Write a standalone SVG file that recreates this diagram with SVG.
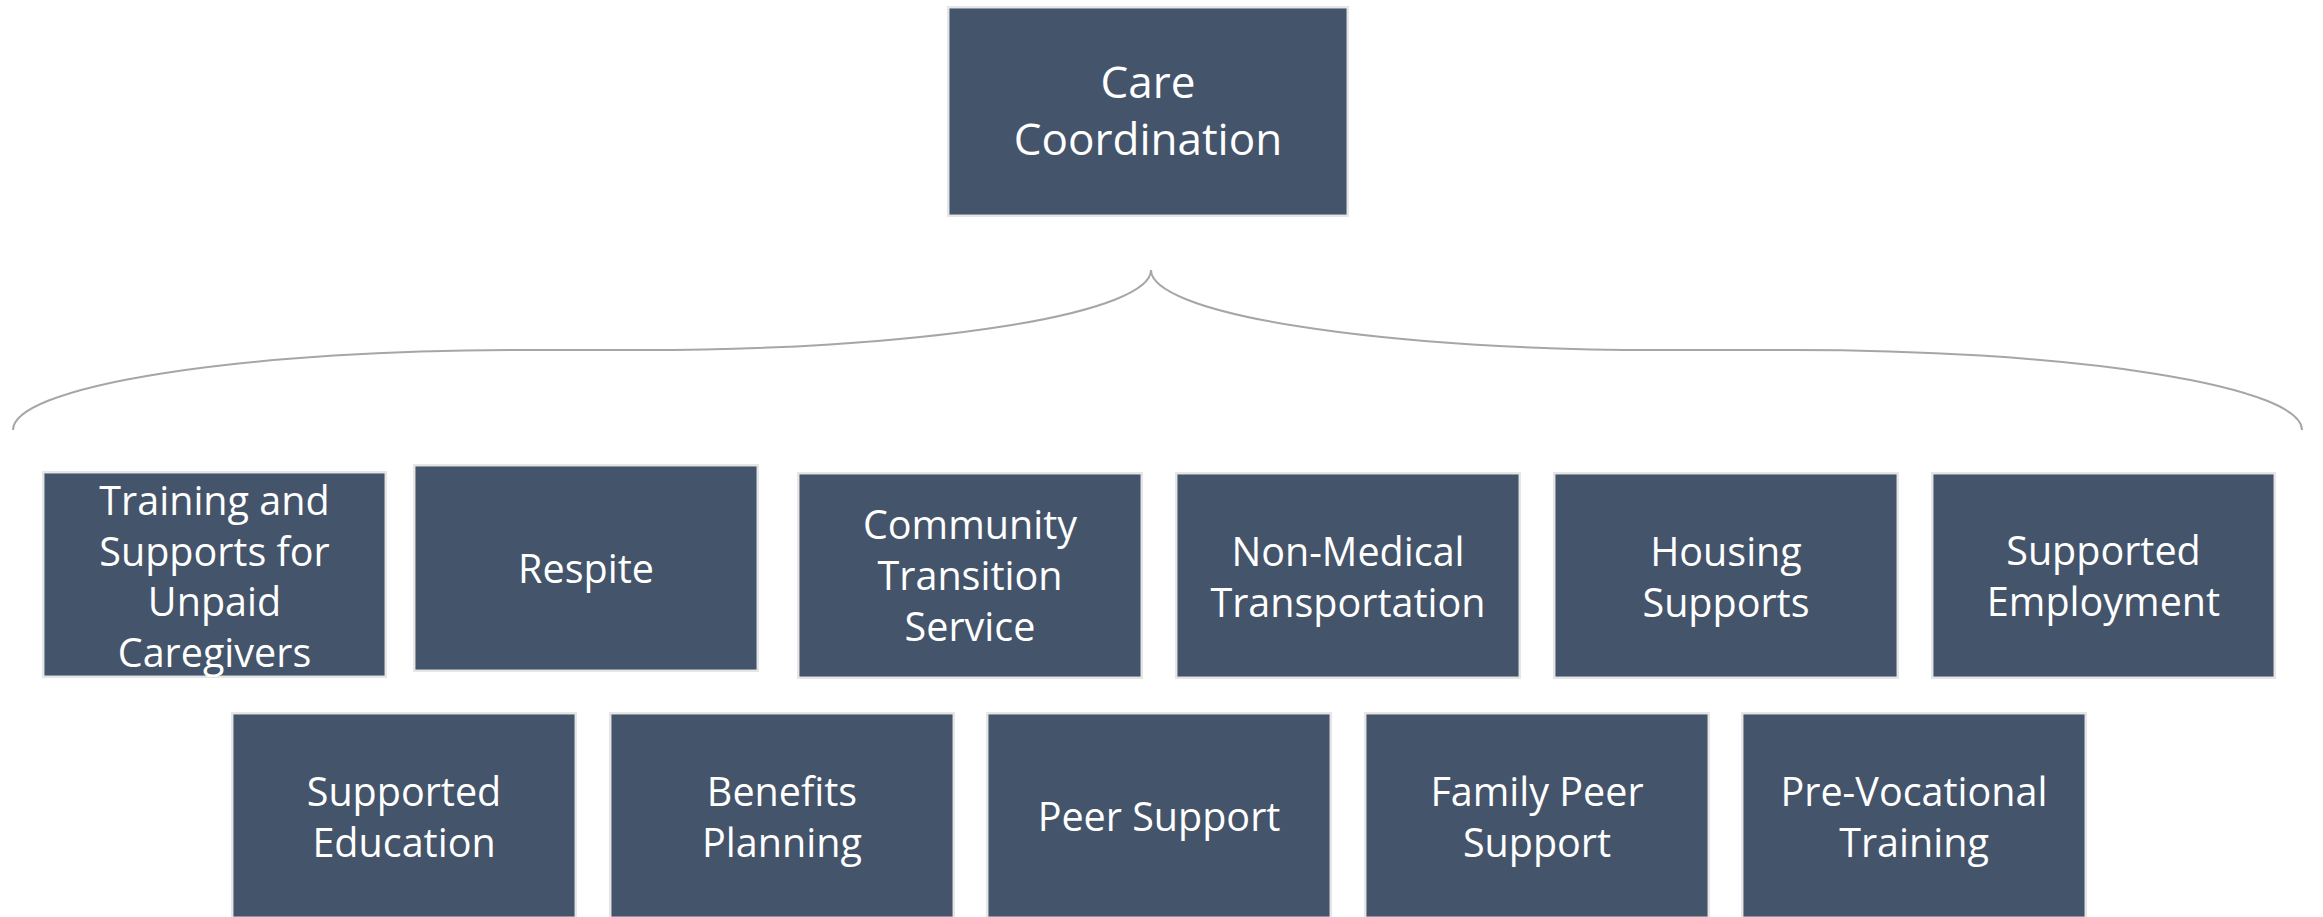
<svg xmlns="http://www.w3.org/2000/svg" width="2323" height="917" viewBox="0 0 2323 917">
<style>
.box{fill:#44546a;stroke:#e6e6e6;stroke-width:2.5}
.lbl{font-family:"Open Sans","Noto Sans",sans-serif;fill:#ffffff;text-anchor:middle;font-size:39.5px}
.top{font-size:44px}
.brace{fill:none;stroke:#a6a6a6;stroke-width:2}
</style>
<rect width="2323" height="917" fill="#ffffff"/>
<g id="connectors">
<path class="brace" d="M13,430 A508,80 0 0 1 521,350 L643,350 A508,80 0 0 0 1151,270 A508,80 0 0 0 1659,350 L1794,350 A508,80 0 0 1 2302,430"/>
</g>
<g id="care-coordination">
<rect class="box" x="948.2" y="7.2" width="399.6" height="208.6"/>
<text class="lbl top" x="1148" y="98">Care<tspan x="1148" dy="57">Coordination</tspan></text>
</g>
<g id="training-supports">
<rect class="box" x="43.2" y="472.2" width="342.6" height="204.6"/>
<text class="lbl" x="214.5" y="515">Training and<tspan x="214.5" dy="50.7">Supports for</tspan><tspan x="214.5" dy="50.7">Unpaid</tspan><tspan x="214.5" dy="50.7">Caregivers</tspan></text>
</g>
<g id="respite">
<rect class="box" x="414.2" y="465.2" width="343.6" height="205.6"/>
<text class="lbl" x="586" y="583">Respite</text>
</g>
<g id="community-transition">
<rect class="box" x="798.2" y="473.2" width="343.6" height="204.6"/>
<text class="lbl" x="970" y="539">Community<tspan x="970" dy="51">Transition</tspan><tspan x="970" dy="51">Service</tspan></text>
</g>
<g id="non-medical-transportation">
<rect class="box" x="1176.2" y="473.2" width="343.6" height="204.6"/>
<text class="lbl" x="1348" y="566">Non-Medical<tspan x="1348" dy="51">Transportation</tspan></text>
</g>
<g id="housing-supports">
<rect class="box" x="1554.2" y="473.2" width="343.6" height="204.6"/>
<text class="lbl" x="1726" y="566">Housing<tspan x="1726" dy="51">Supports</tspan></text>
</g>
<g id="supported-employment">
<rect class="box" x="1932.2" y="473.2" width="342.6" height="204.6"/>
<text class="lbl" x="2103.5" y="565">Supported<tspan x="2103.5" dy="51">Employment</tspan></text>
</g>
<g id="supported-education">
<rect class="box" x="232.2" y="713.2" width="343.6" height="204.6"/>
<text class="lbl" x="404" y="806">Supported<tspan x="404" dy="51">Education</tspan></text>
</g>
<g id="benefits-planning">
<rect class="box" x="610.2" y="713.2" width="343.6" height="204.6"/>
<text class="lbl" x="782" y="806">Benefits<tspan x="782" dy="51">Planning</tspan></text>
</g>
<g id="peer-support">
<rect class="box" x="987.2" y="713.2" width="343.6" height="204.6"/>
<text class="lbl" x="1159" y="831">Peer Support</text>
</g>
<g id="family-peer-support">
<rect class="box" x="1365.2" y="713.2" width="343.6" height="204.6"/>
<text class="lbl" x="1537" y="806">Family Peer<tspan x="1537" dy="51">Support</tspan></text>
</g>
<g id="pre-vocational-training">
<rect class="box" x="1742.2" y="713.2" width="343.6" height="204.6"/>
<text class="lbl" x="1914" y="806">Pre-Vocational<tspan x="1914" dy="51">Training</tspan></text>
</g>
</svg>
